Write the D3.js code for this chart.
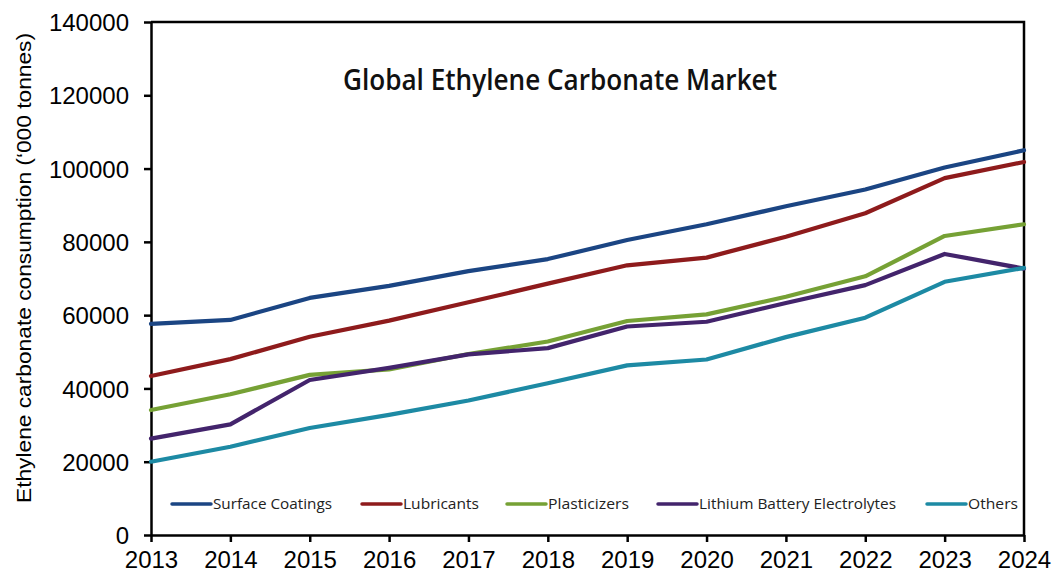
<!DOCTYPE html>
<html>
<head>
<meta charset="utf-8">
<script src="https://cdn.jsdelivr.net/npm/d3@7/dist/d3.min.js"></script>
<style>
  html, body { margin: 0; padding: 0; background: #fff; }
  svg { display: block; }
</style>
</head>
<body>
<svg id="chart" width="1054" height="572"></svg>
<script>
// Consumption of ethylene carbonate by end use ('000 tonnes)
const years = [2013, 2014, 2015, 2016, 2017, 2018, 2019, 2020, 2021, 2022, 2023, 2024];
const surfaceCoatings = [57600, 58700, 64700, 68000, 72000, 75300, 80500, 84800, 89700, 94300, 100300, 105000];
const lubricants      = [43400, 48000, 54100, 58500, 63500, 68600, 73600, 75700, 81400, 87800, 97400, 101800];
const plasticizers    = [34100, 38400, 43700, 45200, 49400, 52800, 58400, 60200, 65000, 70600, 81600, 84800];
const lithiumBattery  = [26300, 30200, 42300, 45600, 49300, 51000, 56900, 58200, 63300, 68200, 76700, 72700];
const others          = [20000, 24100, 29200, 32800, 36700, 41400, 46300, 47900, 54000, 59300, 69100, 72900];
const seriesNames = ["Surface Coatings", "Lubricants", "Plasticizers", "Lithium Battery Electrolytes", "Others"];
const yTicks = [0, 20000, 40000, 60000, 80000, 100000, 120000, 140000];

const seriesValues = [surfaceCoatings, lubricants, plasticizers, lithiumBattery, others];
const colors = ["#1b4583", "#8e1b1c", "#76a135", "#43246c", "#1d8aa4"];

const svg = d3.select("#chart");
const margin = { left: 151, top: 22, right: 30, bottom: 37 };
const W = 1054, H = 572;
const plotW = W - margin.left - margin.right;
const plotH = H - margin.top - margin.bottom;

const x = d3.scaleLinear().domain([2013, 2024]).range([margin.left, margin.left + plotW]);
const y = d3.scaleLinear().domain([0, 140000]).range([margin.top + plotH, margin.top]);

// Frame on top and right
svg.append("path")
  .attr("d", `M${x(2013)},${y(140000)}H${x(2024)}V${y(0)}`)
  .attr("fill", "none").attr("stroke", "#000").attr("stroke-width", 2.5);

// Axes
const xAxis = svg.append("g")
  .attr("transform", `translate(0,${y(0)})`)
  .call(d3.axisBottom(x).tickValues(years).tickFormat(d3.format("d")).tickSize(7).tickSizeOuter(0));
const yAxis = svg.append("g")
  .attr("transform", `translate(${x(2013)},0)`)
  .call(d3.axisLeft(y).tickValues(yTicks).tickFormat(d3.format("d")).tickSize(7).tickSizeOuter(0));

[xAxis, yAxis].forEach(g => {
  g.select(".domain").attr("stroke", "#000").attr("stroke-width", 2.5);
  g.selectAll(".tick line").attr("stroke", "#000").attr("stroke-width", 2.5);
  g.selectAll(".tick text")
    .attr("fill", "#000")
    .style("font-family", "'Liberation Sans', Arial, sans-serif")
    .style("font-size", "24px");
});
xAxis.selectAll(".tick text").attr("dy", "0").attr("y", 33);
yAxis.selectAll(".tick text").attr("x", -22).attr("dy", "0.36em");

// Y axis title
svg.append("text")
  .attr("transform", `translate(31,268) rotate(-90)`)
  .attr("text-anchor", "middle")
  .attr("textLength", 470)
  .attr("lengthAdjust", "spacingAndGlyphs")
  .style("font-family", "'Liberation Sans', Arial, sans-serif")
  .style("font-size", "21px")
  .attr("fill", "#000")
  .text("Ethylene carbonate  consumption (‘000 tonnes)");

// Chart title
svg.append("text")
  .attr("x", 560).attr("y", 90)
  .attr("text-anchor", "middle")
  .attr("textLength", 434)
  .attr("lengthAdjust", "spacingAndGlyphs")
  .style("font-family", "'Open Sans', sans-serif")
  .style("font-weight", 600)
  .style("font-size", "28px")
  .attr("fill", "#111")
  .text("Global Ethylene Carbonate Market");

// Series lines
const line = d3.line()
  .x((d, i) => x(years[i]))
  .y(d => y(d));

svg.append("g").selectAll("path")
  .data(seriesValues)
  .join("path")
  .attr("d", line)
  .attr("fill", "none")
  .attr("stroke", (d, i) => colors[i])
  .attr("stroke-width", 4.2)
  .attr("stroke-linejoin", "round")
  .attr("stroke-linecap", "round");

// Legend inside the plot, one row
const legendItems = [
  { x0: 172, tl: 119 },
  { x0: 362, tl: 76 },
  { x0: 507, tl: 81 },
  { x0: 658, tl: 197 },
  { x0: 927, tl: 50 }
];
const legendY = 504;
const leg = svg.append("g").selectAll("g")
  .data(seriesNames)
  .join("g");
leg.append("line")
  .attr("x1", (d, i) => legendItems[i].x0)
  .attr("x2", (d, i) => legendItems[i].x0 + 39)
  .attr("y1", legendY).attr("y2", legendY)
  .attr("stroke", (d, i) => colors[i])
  .attr("stroke-width", 3.5)
  .attr("stroke-linecap", "round");
leg.append("text")
  .attr("x", (d, i) => legendItems[i].x0 + 41)
  .attr("y", legendY + 5)
  .attr("textLength", (d, i) => legendItems[i].tl)
  .attr("lengthAdjust", "spacingAndGlyphs")
  .style("font-family", "'Open Sans', sans-serif")
  .style("font-size", "14.5px")
  .attr("fill", "#222")
  .text(d => d);
</script>
</body>
</html>
